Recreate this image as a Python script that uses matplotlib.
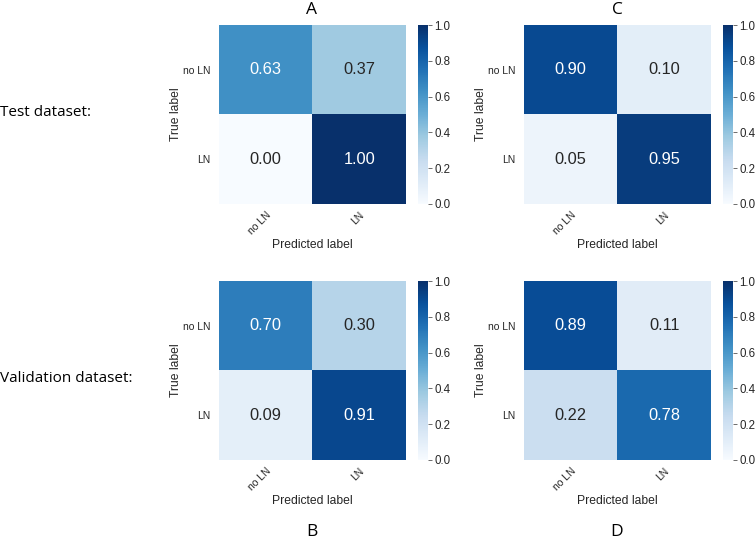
import numpy as np
import matplotlib.pyplot as plt

classes = ["no LN", "LN"]
cm_a = [[0.63, 0.37], [0.00, 1.00]]
cm_b = [[0.70, 0.30], [0.09, 0.91]]
cm_c = [[0.90, 0.10], [0.05, 0.95]]
cm_d = [[0.89, 0.11], [0.22, 0.78]]
panel_letters = ["A", "B", "C", "D"]
row_names = ["Test dataset:", "Validation dataset:"]

plt.rcParams['font.family'] = ['Liberation Sans', 'DejaVu Sans']

W, H = 756, 541
fig = plt.figure(figsize=(W / 100, H / 100), dpi=100)


def px_axes(x0, y0, x1, y1):
    return fig.add_axes([x0 / W, 1 - y1 / H, (x1 - x0) / W, (y1 - y0) / H])


def draw_cm(cm, x0, y0, letter, letter_y):
    cm = np.array(cm)
    ax = px_axes(x0, y0, x0 + 187, y0 + 179)
    im = ax.imshow(cm, cmap="Blues", vmin=0, vmax=1, aspect="auto")
    for i in range(cm.shape[0]):
        for j in range(cm.shape[1]):
            ax.text(j, i, f"{cm[i, j]:.2f}", ha="center", va="center", fontsize=11.8,
                    color="white" if cm[i, j] > 0.5 else "#262626")
    ax.set_xticks(range(len(classes)))
    ax.set_yticks(range(len(classes)))
    ax.set_xticklabels(classes, rotation=45, ha="right", rotation_mode="anchor", fontsize=7.5, color="#262626")
    ax.set_yticklabels(classes, fontsize=7.5, color="#262626")
    ax.tick_params(axis="x", length=0, pad=4)
    ax.tick_params(axis="y", length=0, pad=6)
    ax.set_xlabel("Predicted label", fontsize=8.7, color="#262626", labelpad=2)
    ax.set_ylabel("True label", fontsize=8.7, color="#262626", labelpad=1)
    for s in ax.spines.values():
        s.set_visible(False)
    cax = px_axes(x0 + 199, y0, x0 + 209, y0 + 179)
    cb = fig.colorbar(im, cax=cax)
    cb.outline.set_visible(False)
    cb.set_ticks([0, 0.2, 0.4, 0.6, 0.8, 1.0])
    cax.tick_params(labelsize=8.3, length=3, width=0.6, color="#555555", labelcolor="#262626", pad=1.5)
    fig.text((x0 + 93) / W, 1 - letter_y / H, letter, ha="center", va="center", fontsize=12.5,
             family=['Open Sans', 'DejaVu Sans'])


draw_cm(cm_a, 219, 25, panel_letters[0], 10)
draw_cm(cm_b, 219, 281, panel_letters[1], 532)
draw_cm(cm_c, 524, 25, panel_letters[2], 10)
draw_cm(cm_d, 524, 281, panel_letters[3], 532)

fig.text(0 / W, 1 - 112 / H, row_names[0], ha="left", va="center", fontsize=11,
         family=['Open Sans', 'DejaVu Sans'])
fig.text(0 / W, 1 - 378 / H, row_names[1], ha="left", va="center", fontsize=11,
         family=['Open Sans', 'DejaVu Sans'])

fig.savefig("out.png", dpi=100, facecolor="white")
